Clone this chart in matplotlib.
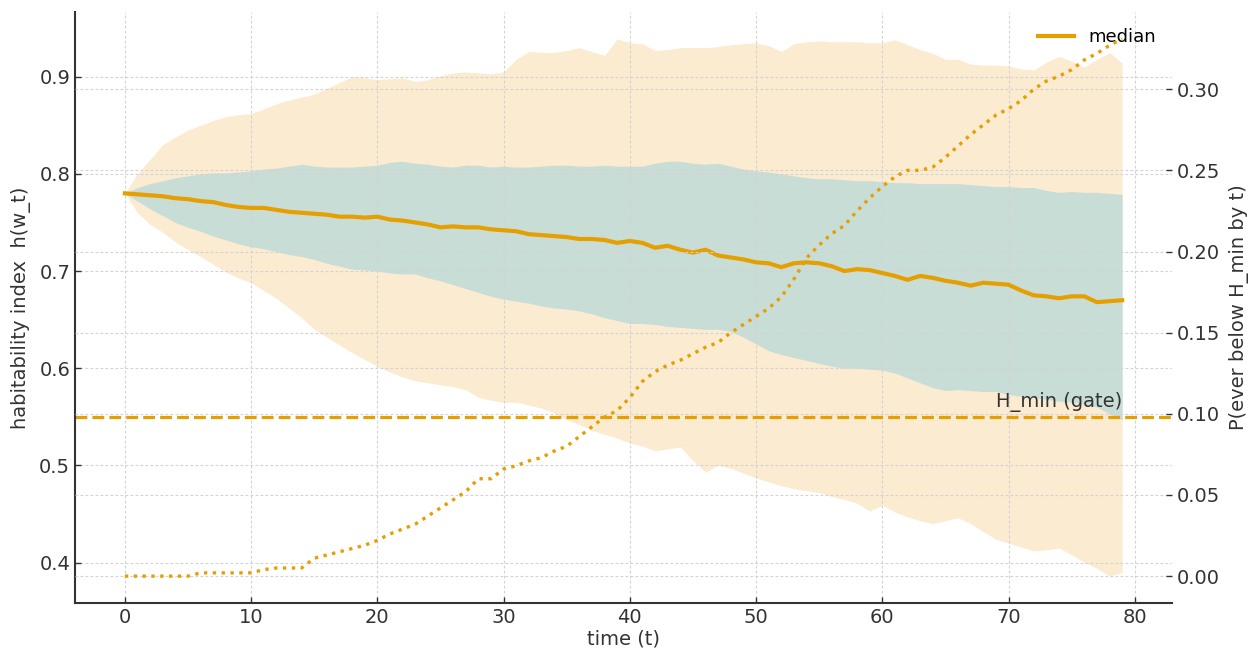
import numpy as np
import matplotlib.pyplot as plt

t = np.arange(80)

median = [0.780, 0.779, 0.778, 0.777, 0.775, 0.774, 0.772, 0.771, 0.768, 0.766,
          0.765, 0.765, 0.763, 0.761, 0.760, 0.759, 0.758, 0.756, 0.756, 0.755,
          0.756, 0.753, 0.752, 0.750, 0.748, 0.745, 0.746, 0.745, 0.745, 0.743,
          0.742, 0.741, 0.738, 0.737, 0.736, 0.735, 0.733, 0.733, 0.732, 0.729,
          0.731, 0.729, 0.724, 0.726, 0.722, 0.719, 0.722, 0.716, 0.714, 0.712,
          0.709, 0.708, 0.704, 0.708, 0.709, 0.708, 0.705, 0.700, 0.702, 0.701,
          0.698, 0.695, 0.691, 0.695, 0.693, 0.690, 0.688, 0.685, 0.688, 0.687,
          0.686, 0.680, 0.675, 0.674, 0.672, 0.674, 0.674, 0.668, 0.669, 0.670]

inner_hi = [0.780, 0.786, 0.790, 0.793, 0.796, 0.798, 0.800, 0.801, 0.801, 0.802,
            0.803, 0.805, 0.806, 0.808, 0.810, 0.808, 0.807, 0.807, 0.807, 0.808,
            0.809, 0.812, 0.813, 0.811, 0.810, 0.808, 0.807, 0.809, 0.809, 0.807,
            0.808, 0.807, 0.807, 0.808, 0.809, 0.809, 0.808, 0.808, 0.809, 0.808,
            0.808, 0.808, 0.811, 0.813, 0.813, 0.811, 0.810, 0.811, 0.808, 0.805,
            0.803, 0.802, 0.800, 0.798, 0.796, 0.795, 0.795, 0.794, 0.793, 0.793,
            0.792, 0.791, 0.791, 0.790, 0.790, 0.790, 0.790, 0.789, 0.788, 0.787,
            0.787, 0.786, 0.786, 0.783, 0.781, 0.782, 0.781, 0.781, 0.780, 0.779]

inner_lo = [0.780, 0.772, 0.764, 0.757, 0.750, 0.745, 0.741, 0.736, 0.732, 0.728,
            0.725, 0.723, 0.720, 0.717, 0.715, 0.712, 0.708, 0.705, 0.702, 0.701,
            0.700, 0.698, 0.697, 0.697, 0.693, 0.690, 0.686, 0.682, 0.678, 0.674,
            0.671, 0.669, 0.667, 0.664, 0.662, 0.661, 0.659, 0.656, 0.652, 0.649,
            0.646, 0.646, 0.645, 0.643, 0.642, 0.641, 0.640, 0.640, 0.638, 0.632,
            0.625, 0.618, 0.614, 0.611, 0.608, 0.605, 0.602, 0.600, 0.600, 0.599,
            0.598, 0.595, 0.590, 0.585, 0.580, 0.577, 0.578, 0.577, 0.576, 0.576,
            0.573, 0.571, 0.570, 0.568, 0.566, 0.565, 0.563, 0.560, 0.553, 0.547]

outer_hi = [0.780, 0.800, 0.815, 0.830, 0.838, 0.845, 0.850, 0.855, 0.859, 0.861,
            0.862, 0.867, 0.872, 0.876, 0.879, 0.882, 0.888, 0.894, 0.900, 0.899,
            0.897, 0.898, 0.899, 0.895, 0.897, 0.901, 0.904, 0.905, 0.904, 0.903,
            0.905, 0.918, 0.926, 0.925, 0.925, 0.927, 0.930, 0.926, 0.922, 0.939,
            0.935, 0.934, 0.927, 0.928, 0.930, 0.930, 0.930, 0.931, 0.933, 0.934,
            0.935, 0.932, 0.926, 0.934, 0.936, 0.937, 0.936, 0.936, 0.936, 0.935,
            0.935, 0.938, 0.933, 0.928, 0.924, 0.918, 0.918, 0.913, 0.912, 0.912,
            0.911, 0.908, 0.907, 0.915, 0.921, 0.916, 0.910, 0.918, 0.925, 0.914]

outer_lo = [0.780, 0.760, 0.748, 0.740, 0.730, 0.722, 0.715, 0.707, 0.699, 0.693,
            0.688, 0.680, 0.672, 0.662, 0.652, 0.640, 0.632, 0.624, 0.616, 0.609,
            0.602, 0.596, 0.591, 0.587, 0.585, 0.583, 0.581, 0.578, 0.570, 0.567,
            0.565, 0.565, 0.562, 0.559, 0.554, 0.547, 0.542, 0.536, 0.532, 0.528,
            0.523, 0.520, 0.515, 0.517, 0.519, 0.505, 0.493, 0.500, 0.497, 0.492,
            0.487, 0.483, 0.479, 0.476, 0.474, 0.472, 0.468, 0.465, 0.461, 0.453,
            0.459, 0.452, 0.447, 0.443, 0.440, 0.443, 0.446, 0.440, 0.432, 0.424,
            0.420, 0.416, 0.412, 0.413, 0.415, 0.408, 0.400, 0.394, 0.386, 0.390]

p_below = [0.000, 0.000, 0.000, 0.000, 0.000, 0.000, 0.002, 0.002, 0.002, 0.002,
           0.002, 0.004, 0.005, 0.005, 0.005, 0.011, 0.013, 0.015, 0.017, 0.019,
           0.022, 0.026, 0.029, 0.032, 0.037, 0.042, 0.047, 0.052, 0.060, 0.060,
           0.066, 0.068, 0.071, 0.073, 0.077, 0.080, 0.086, 0.092, 0.098, 0.102,
           0.110, 0.120, 0.126, 0.130, 0.133, 0.137, 0.141, 0.144, 0.150, 0.155,
           0.160, 0.165, 0.172, 0.183, 0.196, 0.204, 0.211, 0.216, 0.225, 0.233,
           0.240, 0.246, 0.250, 0.250, 0.252, 0.258, 0.265, 0.272, 0.278, 0.284,
           0.288, 0.293, 0.300, 0.305, 0.308, 0.312, 0.318, 0.322, 0.327, 0.331]

h_min = 0.55

orange = '#E69F00'
dark = '#333333'
grid_kw = dict(color='#d2d2d2', linestyle=(0, (2.5, 2)), linewidth=0.8)

plt.rcParams['font.family'] = 'DejaVu Sans'
plt.rcParams['font.size'] = 14

fig = plt.figure(figsize=(12.5, 6.53), dpi=100)
ax = fig.add_axes([0.06, 0.0766, 0.8776, 0.905])

ax.fill_between(t, outer_lo, outer_hi, color='#FBEBD0', linewidth=0)
ax.fill_between(t, inner_lo, inner_hi, color='#C9DDD7', linewidth=0)
ax.plot(t, median, color=orange, linewidth=3, label='median')
ax.axhline(h_min, color=orange, linestyle='--', linewidth=2.3)
ax.text(79, 0.555, 'H_min (gate)', ha='right', va='bottom', color=dark, fontsize=14)

ax.set_xlabel('time (t)', color=dark, labelpad=2)
ax.set_ylabel('habitability index  h(w_t)', color=dark, labelpad=6)
ax.grid(True, **grid_kw)
ax.legend(loc='upper right', frameon=False, fontsize=13)

ax2 = ax.twinx()
ax2.plot(t, p_below, color=orange, linestyle=':', linewidth=2.4)
ax2.set_ylabel('P(ever below H_min by t)', color=dark, labelpad=6)
ax2.grid(True, axis='y', **grid_kw)

for a in (ax, ax2):
    for side in ('top', 'right'):
        a.spines[side].set_visible(False)
    a.tick_params(direction='in', length=4, width=1, colors=dark, labelsize=14)
ax2.spines['left'].set_visible(False)
ax2.spines['bottom'].set_visible(False)
ax.spines['left'].set_color(dark)
ax.spines['bottom'].set_color(dark)
ax.spines['left'].set_linewidth(1.5)
ax.spines['bottom'].set_linewidth(1.5)

fig.savefig('out.png', dpi=100)
